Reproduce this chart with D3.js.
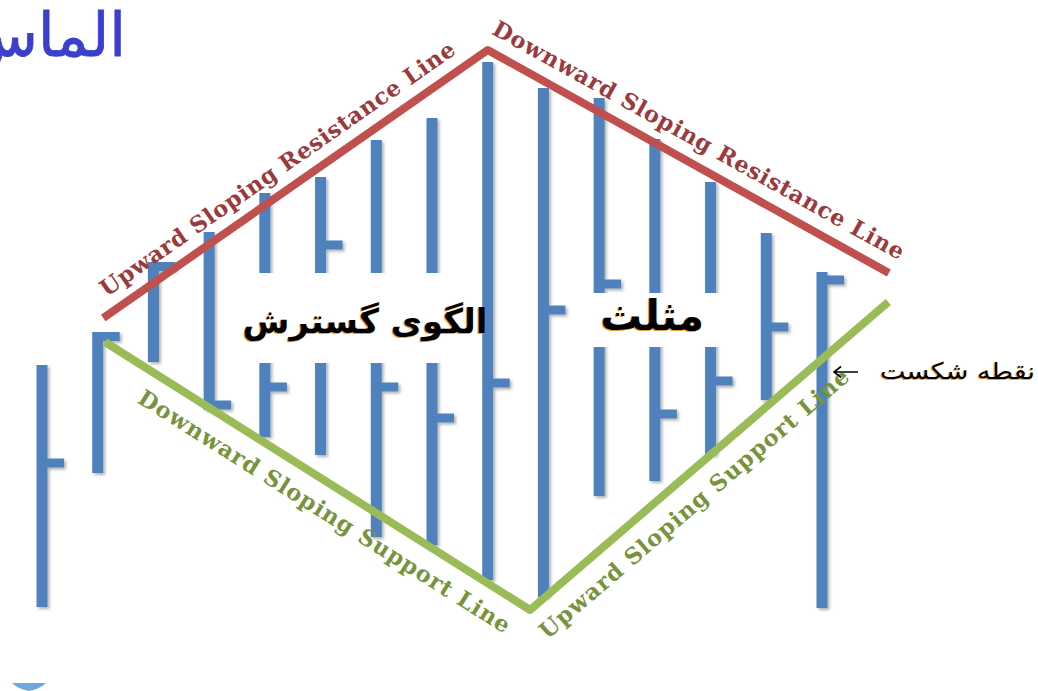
<!DOCTYPE html>
<html><head><meta charset="utf-8">
<script src="https://cdn.jsdelivr.net/npm/d3@7"></script>
<style>html,body{margin:0;padding:0;background:#fff;overflow:hidden}</style>
</head><body><svg id="c" width="1038" height="691"></svg>
<script>
// ---- data (bar index, price units) ----
const barIds  = [1, 2, 3, 4, 5, 6, 7, 8, 9, 10, 11, 12, 13, 14, 15];
const highs   = [28.5, 31.8, 38.8, 41.8, 45.7, 47.3, 51.0, 53.2, 58.8, 56.2, 55.2, 51.1, 46.8, 41.7, 37.8];
const lows    = [4.3, 17.7, 28.8, 24.0, 21.3, 19.5, 11.3, 10.5, 7.0, 5.3, 15.4, 16.9, 19.5, 25.0, 4.2];
const closes  = [18.7, 31.4, 38.4, 24.5, 26.3, 40.5, 26.3, 23.2, 26.7, 34.0, 36.6, 23.6, 26.9, 32.3, 37.0];
const resistanceX = [2.1, 9.0, 16.2];
const resistanceY = [33.2, 60.0, 37.7];
const supportX = [2.13, 9.76, 16.19];
const supportY = [30.8, 4.0, 34.8];
const lineLabels = ["Upward Sloping Resistance Line", "Downward Sloping Resistance Line",
                    "Downward Sloping Support Line", "Upward Sloping Support Line"];
const titleText = "الماس";
const patternLabels = ["الگوی گسترش", "مثلث"];
const breakLabel = "نقطه شکست";
const boxX0 = [4.48, 10.57], boxX1 = [8.83, 13.26];
const boxTop = [37.7, 35.7], boxBottom = [28.7, 30.3];

// ---- scales ----
const x = d3.scaleLinear().domain([1, 15]).range([42, 822]);
const y = d3.scaleLinear().domain([0, 60]).range([650, 50]);
const svg = d3.select('#c');
svg.append('rect').attr('width',1038).attr('height',691).attr('fill','#fff');

const defs = svg.append('defs');
const f = defs.append('filter').attr('id','sh').attr('x','-50%').attr('y','-10%').attr('width','200%').attr('height','120%');
f.append('feDropShadow').attr('dx',2).attr('dy',2).attr('stdDeviation',1.4).attr('flood-color','#000').attr('flood-opacity',0.3);

// ---- bars ----
const BW = 11, TL = 22, TH = 9;
const bars = svg.append('g').attr('filter','url(#sh)');
const data = barIds.map((id,i)=>({id, h:highs[i], l:lows[i], c:closes[i]}));
bars.selectAll('rect.bar').data(data).join('rect').attr('class','bar')
  .attr('x', d=>x(d.id)-BW/2).attr('y', d=>y(d.h)).attr('width', BW).attr('height', d=>y(d.l)-y(d.h))
  .attr('fill','#4f81bd');
bars.selectAll('rect.tick').data(data).join('rect').attr('class','tick')
  .attr('x', d=>x(d.id)).attr('y', d=>Math.max(y(d.h), y(d.c)-TH/2)).attr('width', TL).attr('height', TH)
  .attr('fill','#4f81bd');

// ---- white boxes behind pattern names ----
svg.selectAll('rect.box').data(boxX0).join('rect').attr('class','box')
  .attr('x',(d,i)=>x(boxX0[i])).attr('y',(d,i)=>y(boxTop[i]))
  .attr('width',(d,i)=>x(boxX1[i])-x(boxX0[i])).attr('height',(d,i)=>y(boxBottom[i])-y(boxTop[i]))
  .attr('fill','#fff');

// ---- trend lines ----
const lineGen = d3.line().x(d=>x(d[0])).y(d=>y(d[1]));
const resPts = resistanceX.map((v,i)=>[v, resistanceY[i]]);
const supPts = supportX.map((v,i)=>[v, supportY[i]]);
svg.append('path').attr('d', lineGen(resPts)).attr('fill','none').attr('stroke','#c0504d')
  .attr('stroke-width',8).attr('stroke-linejoin','round');
svg.append('path').attr('d', lineGen(supPts)).attr('fill','none').attr('stroke','#9bbb59')
  .attr('stroke-width',8).attr('stroke-linejoin','round');

// ---- labels along the lines ----
function along(p0, p1, t, off, txt, len, color) {
  const X0=x(p0[0]), Y0=y(p0[1]), X1=x(p1[0]), Y1=y(p1[1]);
  const dx=X1-X0, dy=Y1-Y0, L=Math.hypot(dx,dy);
  const ux=dx/L, uy=dy/L, nx=-uy, ny=ux;
  const cx=X0+dx*t+nx*off, cy=Y0+dy*t+ny*off;
  const ang=Math.atan2(dy,dx)*180/Math.PI;
  svg.append('text').attr('transform',`translate(${cx},${cy}) rotate(${ang})`)
    .attr('text-anchor','middle').attr('font-family','DejaVu Serif, serif').attr('font-weight','bold')
    .attr('font-size',22.5).attr('fill',color).attr('textLength',len).attr('lengthAdjust','spacing')
    .text(txt);
}
along(resPts[0], resPts[1], 0.487, -15, lineLabels[0], 427, '#9a3a3c');
along(resPts[1], resPts[2], 0.497, -16, lineLabels[1], 467, '#9a3a3c');
along(supPts[0], supPts[1], 0.549, 34, lineLabels[2], 435, '#77933c');
along(supPts[1], supPts[2], 0.41, 34, lineLabels[3], 400, '#77933c');

// ---- title (cut at the left edge, as in the original) ----
svg.append('text').attr('x',126).attr('y',56).attr('text-anchor','end')
  .attr('font-family','DejaVu Sans, sans-serif').attr('font-size',60).attr('fill','#3b3fcc')
  .attr('stroke','#3b3fcc').attr('stroke-width',0.8)
  .text(titleText);

// ---- Persian pattern names ----
function fitText(cx, by, txt, width, size) {
  const g = svg.append('g');
  const mk = (dx,dy,col)=>g.append('text').attr('x',cx+dx).attr('y',by+dy).attr('text-anchor','middle')
    .attr('font-family','DejaVu Sans, sans-serif').attr('font-weight','bold').attr('font-size',size)
    .attr('fill',col).text(txt);
  const a = mk(-1,1,'#e8a040'); const b = mk(0,0,'#000');
  const w = b.node().getComputedTextLength();
  const s = size*width/w;
  a.attr('font-size',s); b.attr('font-size',s);
}
fitText((x(boxX0[0])+x(boxX1[0]))/2+8, (y(boxTop[0])+y(boxBottom[0]))/2+15, patternLabels[0], 245, 36);
fitText((x(boxX0[1])+x(boxX1[1]))/2+2, (y(boxTop[1])+y(boxBottom[1]))/2+10, patternLabels[1], 104, 36);

// ---- break point ----
const g2 = svg.append('g');
[[ -1, 1, '#e8a040'], [0, 0, '#000']].forEach(([dx,dy,col])=>{
  g2.append('text').attr('x',880+dx).attr('y',379+dy).attr('text-anchor','start')
    .attr('font-family','DejaVu Sans, sans-serif').attr('font-size',23).attr('fill',col)
    .attr('textLength',155).attr('lengthAdjust','spacingAndGlyphs').text(breakLabel);
});
g2.append('path').attr('d','M858,372 L834,372 M841,366.5 L834,372 L841,377.5')
  .attr('fill','none').attr('stroke','#000').attr('stroke-width',1.6);

// ---- small decoration bottom-left ----
svg.append('path').attr('d','M12,683 L46,683 Q40,689 29,691 Q18,689 12,683 Z').attr('fill','#6fa8dc');
</script></body></html>
